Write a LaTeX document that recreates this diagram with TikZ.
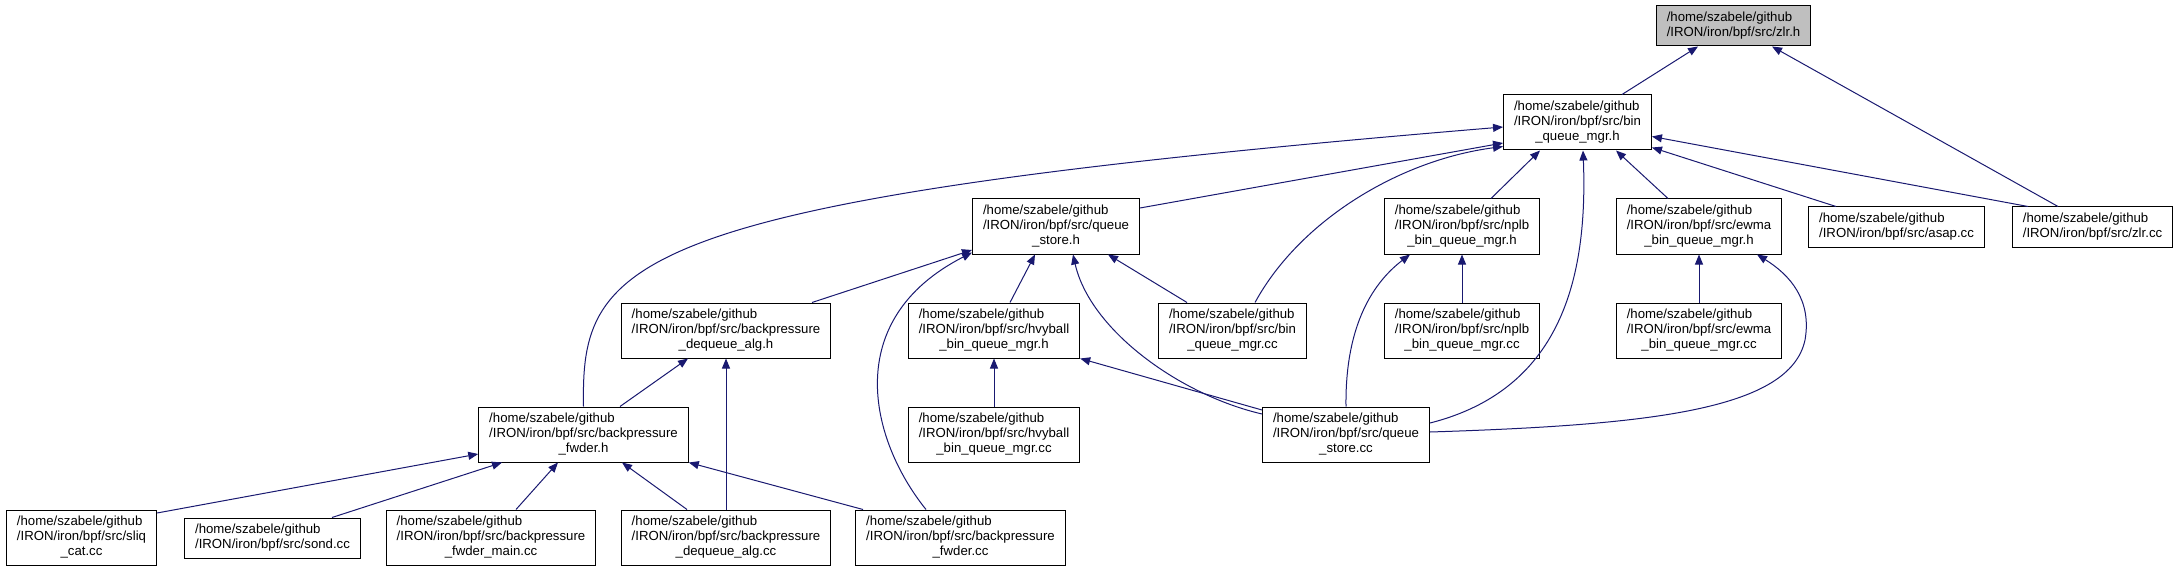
\documentclass[tikz,border=0pt]{standalone}
\usepackage{fontspec}
\setmainfont{Liberation Sans}
\usepackage{tikz}
\usetikzlibrary{arrows.meta}
\definecolor{edgeblue}{RGB}{25,25,112}
\newcommand{\srcname}[3]{\begin{tabular}{@{}l@{}}#1\\#2\\\multicolumn{1}{@{}c@{}}{#3}\end{tabular}}
\newcommand{\srcnamei}[2]{\begin{tabular}{@{}l@{}}#1\\#2\end{tabular}}

\begin{document}
\begin{tikzpicture}[x=1pt,y=-1pt,
  file/.style={draw,line width=1pt,inner xsep=10.5pt,inner ysep=5pt,font=\fontsize{13.2}{15}\selectfont},
  dep/.style={edgeblue,line width=1pt,-{Triangle[length=10pt,width=8pt]}}]
\useasboundingbox (0,0) rectangle (2181,572);
% files
\node[file,fill=gray!50] (zlrh) at (1733.5,26) {\srcnamei{/home/szabele/github}{/IRON/iron/bpf/src/zlr.h}};
\node[file] (binh) at (1577.5,122.5) {\srcname{/home/szabele/github}{/IRON/iron/bpf/src/bin}{\_queue\_mgr.h}};
\node[file] (qsh) at (1056,226.5) {\srcname{/home/szabele/github}{/IRON/iron/bpf/src/queue}{\_store.h}};
\node[file] (nplbh) at (1462,226.5) {\srcname{/home/szabele/github}{/IRON/iron/bpf/src/nplb}{\_bin\_queue\_mgr.h}};
\node[file] (ewmah) at (1699,226.5) {\srcname{/home/szabele/github}{/IRON/iron/bpf/src/ewma}{\_bin\_queue\_mgr.h}};
\node[file] (asap) at (1896.5,227) {\srcnamei{/home/szabele/github}{/IRON/iron/bpf/src/asap.cc}};
\node[file] (zlrcc) at (2092.5,227) {\srcnamei{/home/szabele/github}{/IRON/iron/bpf/src/zlr.cc}};
\node[file] (dqh) at (726,330.5) {\srcname{/home/szabele/github}{/IRON/iron/bpf/src/backpressure}{\_dequeue\_alg.h}};
\node[file] (hvyh) at (994,330.5) {\srcname{/home/szabele/github}{/IRON/iron/bpf/src/hvyball}{\_bin\_queue\_mgr.h}};
\node[file] (bincc) at (1232.5,330.5) {\srcname{/home/szabele/github}{/IRON/iron/bpf/src/bin}{\_queue\_mgr.cc}};
\node[file] (nplbcc) at (1462,330.5) {\srcname{/home/szabele/github}{/IRON/iron/bpf/src/nplb}{\_bin\_queue\_mgr.cc}};
\node[file] (ewmacc) at (1699,330.5) {\srcname{/home/szabele/github}{/IRON/iron/bpf/src/ewma}{\_bin\_queue\_mgr.cc}};
\node[file] (fwdh) at (583.5,434.5) {\srcname{/home/szabele/github}{/IRON/iron/bpf/src/backpressure}{\_fwder.h}};
\node[file] (hvycc) at (994,434.5) {\srcname{/home/szabele/github}{/IRON/iron/bpf/src/hvyball}{\_bin\_queue\_mgr.cc}};
\node[file] (qscc) at (1346,434.5) {\srcname{/home/szabele/github}{/IRON/iron/bpf/src/queue}{\_store.cc}};
\node[file] (sliq) at (81.5,537.5) {\srcname{/home/szabele/github}{/IRON/iron/bpf/src/sliq}{\_cat.cc}};
\node[file] (sond) at (272.5,538) {\srcnamei{/home/szabele/github}{/IRON/iron/bpf/src/sond.cc}};
\node[file] (fmain) at (491,537.5) {\srcname{/home/szabele/github}{/IRON/iron/bpf/src/backpressure}{\_fwder\_main.cc}};
\node[file] (dqcc) at (726,537.5) {\srcname{/home/szabele/github}{/IRON/iron/bpf/src/backpressure}{\_dequeue\_alg.cc}};
\node[file] (fwdcc) at (960.5,537.5) {\srcname{/home/szabele/github}{/IRON/iron/bpf/src/backpressure}{\_fwder.cc}};
% includes
\draw[dep] ([xshift=44.5pt]binh.north) -- ([xshift=-35.5pt]zlrh.south);
\draw[dep] ([xshift=-34.5pt]zlrcc.north) -- ([xshift=38.5pt]zlrh.south);
\draw[dep] (fwdh.north) .. controls (581,260) and (620,200) .. ([yshift=-4.5pt]binh.west);
\draw[dep] ([yshift=18.5pt]qsh.east) -- ([yshift=-20.5pt]binh.west);
\draw[dep] ([xshift=22.5pt]bincc.north) .. controls (1300,220) and (1400,160) .. ([yshift=-24pt]binh.west);
\draw[dep] ([xshift=29pt]nplbh.north) -- ([xshift=-37.5pt]binh.south);
\draw[dep] ([yshift=11.5pt]qscc.east) .. controls (1560,390) and (1588,280) .. ([xshift=5.5pt]binh.south);
\draw[dep] ([xshift=-31pt]ewmah.north) -- ([xshift=38.5pt]binh.south);
\draw[dep] ([xshift=-60.5pt]asap.north) -- ([yshift=-25pt]binh.east);
\draw[dep] ([xshift=-64.5pt]zlrcc.north) -- ([yshift=-14pt]binh.east);
\draw[dep] ([xshift=86pt]dqh.north) -- ([yshift=-23.5pt]qsh.west);
\draw[dep] ([xshift=16pt]hvyh.north) -- ([xshift=-21pt]qsh.south);
\draw[dep] ([xshift=-34.5pt]fwdcc.north) .. controls (870,440) and (840,320) .. ([yshift=-26pt]qsh.west);
\draw[dep] ([yshift=20.5pt]qscc.west) .. controls (1180,395) and (1090,330) .. ([xshift=17pt]qsh.south);
\draw[dep] ([xshift=-45.5pt]bincc.north) -- ([xshift=52pt]qsh.south);
\draw[dep] (nplbcc.north) -- (nplbh.south);
\draw[dep] (qscc.north) .. controls (1345,330) and (1370,285) .. ([xshift=-52pt]nplbh.south);
\draw[dep] (ewmacc.north) -- (ewmah.south);
\draw[dep] ([yshift=2.5pt]qscc.east) .. controls (1650,425) and (1790,410) .. (1805,340)
  .. controls (1812,300) and (1790,275) .. ([xshift=58pt]ewmah.south);
\draw[dep] ([xshift=36.5pt]fwdh.north) -- ([xshift=-38pt]dqh.south);
\draw[dep] (dqcc.north) -- (dqh.south);
\draw[dep] (hvycc.north) -- (hvyh.south);
\draw[dep] ([yshift=24.5pt]qscc.west) -- (hvyh.south east);
\draw[dep] ([yshift=24.5pt]sliq.east) -- ([yshift=-19.5pt]fwdh.west);
\draw[dep] ([xshift=59.5pt]sond.north) -- ([xshift=-81.5pt]fwdh.south);
\draw[dep] ([xshift=25pt]fmain.north) -- ([xshift=-25.5pt]fwdh.south);
\draw[dep] ([xshift=-39pt]dqcc.north) -- ([xshift=38.5pt]fwdh.south);
\draw[dep] ([xshift=-97.5pt]fwdcc.north) -- (fwdh.south east);
\end{tikzpicture}
\end{document}
